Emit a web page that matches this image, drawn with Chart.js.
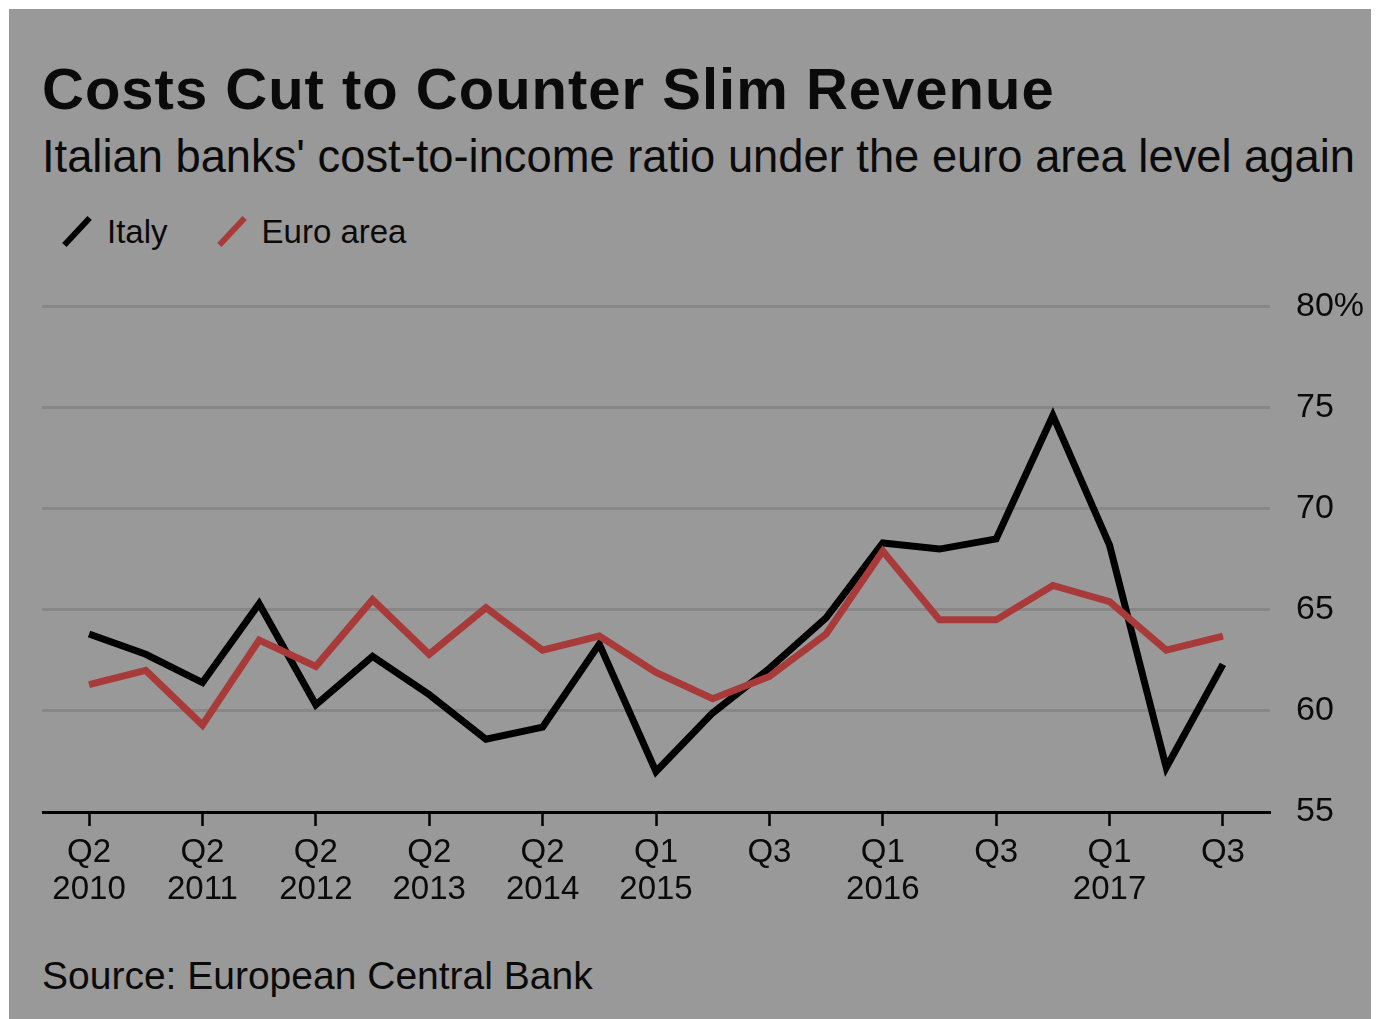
<!DOCTYPE html>
<html lang="en">
<head>
    <meta charset="UTF-8">
    <title>Costs Cut to Counter Slim Revenue</title>
    <script src="https://cdn.jsdelivr.net/npm/chart.js"></script>
    <style>
        body {
            margin: 0;
            background: #fff;
            font-family: 'Liberation Sans', Arial, sans-serif;
            color: #0a0a0a;
        }

        .panel {
            position: absolute;
            left: 9px;
            top: 9px;
            width: 1362px;
            height: 1010px;
            background: #999999;
        }

        .txt {
            position: absolute;
            left: 42px;
            line-height: 1;
            white-space: nowrap;
        }

        #title {
            top: 60px;
            font-size: 58px;
            font-weight: bold;
            letter-spacing: 1px;
        }

        #subtitle {
            top: 134px;
            font-size: 45.3px;
        }

        #legend {
            position: absolute;
            left: 62px;
            top: 215px;
            display: flex;
            align-items: center;
            font-size: 33px;
            line-height: 1;
        }

        .item {
            display: flex;
            align-items: center;
            margin-right: 49px;
        }

        .icon {
            position: relative;
            width: 30px;
            height: 33px;
            margin-right: 15px;
        }

        .icon span {
            position: absolute;
            left: 12px;
            top: -2px;
            width: 6px;
            height: 37px;
            transform: rotate(43deg);
        }

        #source {
            top: 956px;
            font-size: 39px;
        }

        .chartBox {
            position: absolute;
            left: 42px;
            top: 260px;
            width: 1340px;
            height: 660px;
        }
    </style>
</head>
<body>

    <div class="panel"></div>
    <div class="txt" id="title">Costs Cut to Counter Slim Revenue</div>
    <div class="txt" id="subtitle">Italian banks' cost-to-income ratio under the euro area level again</div>
    <div id="legend"></div>
    <div class="chartBox"><canvas id="chart"></canvas></div>
    <div class="txt" id="source">Source: European Central Bank</div>

    <script>
        // semi-annual until 2014, quarterly from Q4 2014
        const quarters = ["Q2 2010", "Q4 2010", "Q2 2011", "Q4 2011", "Q2 2012", "Q4 2012",
                          "Q2 2013", "Q4 2013", "Q2 2014", "Q4 2014", "Q1 2015", "Q2 2015",
                          "Q3 2015", "Q4 2015", "Q1 2016", "Q2 2016", "Q3 2016", "Q4 2016",
                          "Q1 2017", "Q2 2017", "Q3 2017"];
        const italy    = [63.8, 62.8, 61.4, 65.3, 60.3, 62.7, 60.8, 58.6, 59.2, 63.3, 57.0,
                          59.9, 62.1, 64.6, 68.3, 68.0, 68.5, 74.6, 68.2, 57.2, 62.3];
        const euroArea = [61.3, 62.0, 59.3, 63.5, 62.2, 65.5, 62.8, 65.1, 63.0, 63.7, 61.9,
                          60.6, 61.7, 63.8, 67.9, 64.5, 64.5, 66.2, 65.4, 63.0, 63.7];

        // which points get a tick, and what it says
        const tickIndex  = [0, 2, 4, 6, 8, 10, 12, 14, 16, 18, 20];
        const tickLabels = [["Q2", "2010"], ["Q2", "2011"], ["Q2", "2012"], ["Q2", "2013"],
                            ["Q2", "2014"], ["Q1", "2015"], ["Q3"], ["Q1", "2016"], ["Q3"],
                            ["Q1", "2017"], ["Q3"]];
        const yTicks = [55, 60, 65, 70, 75, 80];

        const series = [
            { label: "Italy", data: italy, color: "#000000" },
            { label: "Euro area", data: euroArea, color: "#a83a3a" }
        ];

        // html legend with slanted line markers
        let legend = document.getElementById("legend");
        series.forEach(s => {
            let item = document.createElement("div");
            item.className = "item";
            item.innerHTML = '<div class="icon"><span style="background:' + s.color + '"></span></div>' + s.label;
            legend.appendChild(item);
        });

        let ctx = document.getElementById("chart").getContext("2d");
        new Chart(ctx, {
            type: "line",
            data: {
                datasets: series.map(s => ({
                    label: s.label,
                    data: s.data.map((v, i) => ({ x: i, y: v })),
                    borderColor: s.color,
                    borderWidth: 7,
                    pointRadius: 0,
                    tension: 0,
                    fill: false
                })).reverse()
            },
            options: {
                responsive: true,
                maintainAspectRatio: false,
                animation: false,
                events: [],
                layout: { padding: { top: 0, left: 0, right: 0, bottom: 0 } },
                plugins: {
                    legend: { display: false },
                    tooltip: { enabled: false }
                },
                scales: {
                    x: {
                        type: "linear",
                        min: -0.83,
                        max: quarters.length - 1 + 0.83,
                        afterBuildTicks: axis => { axis.ticks = tickIndex.map(v => ({ value: v })); },
                        afterFit: axis => { axis.height = 108; },
                        grid: {
                            drawOnChartArea: false,
                            drawTicks: true,
                            tickLength: 14,
                            tickWidth: 2.5,
                            tickColor: "#000"
                        },
                        border: { display: true, color: "#000", width: 3 },
                        ticks: {
                            autoSkip: false,
                            maxRotation: 0,
                            padding: 8,
                            color: "#0a0a0a",
                            font: { family: "'Liberation Sans', Arial, sans-serif", size: 33, lineHeight: 1.12 },
                            callback: (value, i) => tickLabels[i]
                        }
                    },
                    y: {
                        position: "right",
                        min: 55,
                        max: 80,
                        afterBuildTicks: axis => { axis.ticks = yTicks.map(v => ({ value: v })); },
                        afterFit: axis => { axis.width = 112; },
                        grid: {
                            drawTicks: false,
                            lineWidth: 3,
                            color: c => c.tick && c.tick.value === 55 ? "rgba(0,0,0,0)" : "#878787"
                        },
                        border: { display: false },
                        ticks: {
                            padding: 26,
                            crossAlign: "near",
                            color: "#0a0a0a",
                            font: { family: "'Liberation Sans', Arial, sans-serif", size: 34 },
                            callback: v => v === 80 ? v + "%" : v
                        }
                    }
                }
            }
        });
    </script>

</body>
</html>
